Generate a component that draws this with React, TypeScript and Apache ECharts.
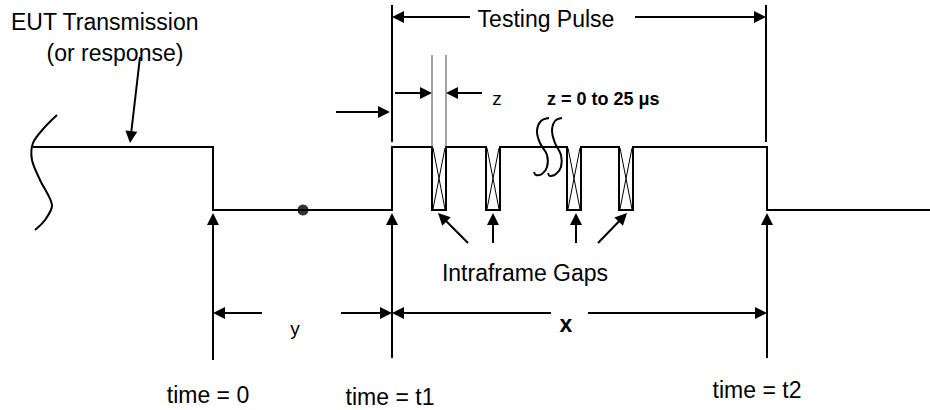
import React, { useEffect, useRef } from "react";
import * as echarts from "echarts";

// Signal levels (diagram units = pixels on a hidden 930 x 410 value grid)
const HIGH = 147;
const LOW = 210;
const waveStart = 33;
const waveEnd = 930;
// time = 0, time = t1, time = t2
const timeMarks = [213, 392, 767];
// Intraframe gaps (start positions) and their width
const gapStarts = [432, 486, 567, 619];
const gapWidth = 14;
// Marker dot on the low level
const dotPoints = [[303, 210]];

// Arrows: [fromX, fromY, tipX, tipY]
const arrowSegments = [
  [140, 57, 130, 143],
  [470, 17, 392, 17],
  [635, 17, 766, 17],
  [395, 93, 432, 93],
  [482, 93, 446, 93],
  [336, 112, 390, 112],
  [468, 243, 438, 213],
  [493, 243, 493, 213],
  [576, 243, 576, 213],
  [598, 243, 627, 213],
  [213, 360, 213, 213],
  [392, 358, 392, 213],
  [767, 358, 767, 213],
  [262, 313, 213, 313],
  [341, 313, 392, 313],
  [551, 313, 392, 313],
  [588, 313, 767, 313],
];
// Plain lines: [x1, y1, x2, y2]
const boldLines = [
  [392, 5, 392, 142],
  [766, 5, 766, 142],
];
const thinLines = [
  [432, 55, 432, 148],
  [446, 55, 446, 148],
];

// Text labels
const labelTexts = [
  "EUT Transmission",
  "(or response)",
  "Testing Pulse",
  "z",
  "z = 0 to 25 \u03bcs",
  "Intraframe Gaps",
  "y",
  "x",
  "time = 0",
  "time = t1",
  "time = t2",
];

const FONT = '"Liberation Sans", Arial, Helvetica, sans-serif';

function buildWave(): number[][] {
  const pts: number[][] = [];
  pts.push([waveStart, HIGH], [timeMarks[0], HIGH], [timeMarks[0], LOW]);
  pts.push([timeMarks[1], LOW], [timeMarks[1], HIGH]);
  gapStarts.forEach((g) => {
    pts.push([g, HIGH], [g, LOW], [g + gapWidth, LOW], [g + gapWidth, HIGH]);
  });
  pts.push([timeMarks[2], HIGH], [timeMarks[2], LOW], [waveEnd, LOW]);
  return pts;
}

function txt(
  text: string,
  x: number,
  y: number,
  size: number,
  align: string,
  weight: string = "normal"
) {
  return {
    type: "text",
    x,
    y,
    silent: true,
    style: {
      text,
      font: `${weight} ${size}px ${FONT}`,
      fill: "#000",
      align,
      verticalAlign: "middle",
      textAlign: align,
      textVerticalAlign: "middle",
    },
  };
}

export default function App() {
  const ref = useRef<HTMLDivElement>(null);
  useEffect(() => {
    if (!ref.current) return;
    const chart = echarts.init(ref.current, undefined, { renderer: "svg" });

    const lineRender = (width: number, color: string) => (params: any, api: any) => {
      const a = api.coord([api.value(0), api.value(1)]);
      const b = api.coord([api.value(2), api.value(3)]);
      return {
        type: "line",
        shape: { x1: a[0], y1: a[1], x2: b[0], y2: b[1] },
        style: { stroke: color, lineWidth: width },
      };
    };

    const option: any = {
      animation: false,
      backgroundColor: "#fff",
      grid: { left: 0, right: 0, top: 0, bottom: 0, containLabel: false },
      xAxis: { type: "value", min: 0, max: 930, show: false },
      yAxis: { type: "value", min: 0, max: 410, inverse: true, show: false },
      series: [
        {
          name: "EUT signal",
          type: "line",
          data: buildWave(),
          symbol: "none",
          lineStyle: { color: "#000", width: 2, join: "miter" },
          z: 3,
        },
        {
          name: "gap marks",
          type: "custom",
          data: gapStarts.map((g) => [g, HIGH]),
          renderItem: (params: any, api: any) => {
            const g = api.value(0);
            const tl = api.coord([g + 1, HIGH + 1]);
            const br = api.coord([g + gapWidth - 1, LOW - 1]);
            return {
              type: "group",
              children: [
                {
                  type: "line",
                  shape: { x1: tl[0], y1: tl[1], x2: br[0], y2: br[1] },
                  style: { stroke: "#000", lineWidth: 1 },
                },
                {
                  type: "line",
                  shape: { x1: br[0], y1: tl[1], x2: tl[0], y2: br[1] },
                  style: { stroke: "#000", lineWidth: 1 },
                },
              ],
            };
          },
          z: 2,
        },
        {
          name: "arrows",
          type: "custom",
          data: arrowSegments,
          encode: { x: [0, 2], y: [1, 3] },
          renderItem: (params: any, api: any) => {
            const a = api.coord([api.value(0), api.value(1)]);
            const b = api.coord([api.value(2), api.value(3)]);
            const dx = b[0] - a[0];
            const dy = b[1] - a[1];
            const len = Math.hypot(dx, dy) || 1;
            const ux = dx / len;
            const uy = dy / len;
            const hl = 12;
            const hw = 6;
            const base = [b[0] - ux * hl, b[1] - uy * hl];
            const left = [base[0] - uy * hw, base[1] + ux * hw];
            const right = [base[0] + uy * hw, base[1] - ux * hw];
            return {
              type: "group",
              children: [
                {
                  type: "line",
                  shape: { x1: a[0], y1: a[1], x2: base[0] + ux * 2, y2: base[1] + uy * 2 },
                  style: { stroke: "#000", lineWidth: 2 },
                },
                {
                  type: "polygon",
                  shape: { points: [b, left, right] },
                  style: { fill: "#000" },
                },
              ],
            };
          },
          z: 4,
        },
        {
          name: "markers",
          type: "custom",
          data: boldLines,
          encode: { x: [0, 2], y: [1, 3] },
          renderItem: lineRender(2, "#000"),
          z: 4,
        },
        {
          name: "z lines",
          type: "custom",
          data: thinLines,
          encode: { x: [0, 2], y: [1, 3] },
          renderItem: lineRender(1, "#444"),
          z: 4,
        },
        {
          name: "dot",
          type: "scatter",
          data: dotPoints,
          symbolSize: 11,
          itemStyle: { color: "#000" },
          z: 5,
        },
      ],
      graphic: [
        txt(labelTexts[0], 11, 22, 23, "left"),
        txt(labelTexts[1], 115, 53, 23, "center"),
        txt(labelTexts[2], 546, 19, 23, "center"),
        txt(labelTexts[3], 497, 98, 19, "center"),
        txt(labelTexts[4], 547, 99, 18, "left", "bold"),
        txt(labelTexts[5], 525, 273, 23, "center"),
        txt(labelTexts[6], 295, 328, 19, "center"),
        txt(labelTexts[7], 566, 324, 23, "center", "bold"),
        txt(labelTexts[8], 208, 395, 23, "center"),
        txt(labelTexts[9], 390, 397, 23, "center"),
        txt(labelTexts[10], 757, 390, 23, "center"),
        {
          type: "polyline",
          silent: true,
          shape: {
            points: [[57, 115], [44, 128], [33, 143], [32, 160], [40, 180], [52, 205], [45, 220], [35, 230]],
            smooth: 0.3,
          },
          style: { stroke: "#000", lineWidth: 2, fill: null },
        },
        {
          type: "polyline",
          silent: true,
          shape: {
            points: [[549, 118], [541, 121], [537, 131], [540, 143], [547, 155], [547, 167], [542, 174], [536, 175], [534, 172]],
            smooth: 0.4,
          },
          style: { stroke: "#000", lineWidth: 2, fill: null },
          z: 10,
        },
        {
          type: "polyline",
          silent: true,
          shape: {
            points: [[562, 118], [555, 121], [552, 131], [555, 143], [561, 155], [561, 167], [556, 174], [550, 176], [548, 173]],
            smooth: 0.4,
          },
          style: { stroke: "#000", lineWidth: 2, fill: null },
          z: 10,
        },
      ],
    };
    chart.setOption(option);
    return () => chart.dispose();
  }, []);

  return (
    <div
      ref={ref}
      style={{ position: "absolute", left: 0, top: 0, width: 930, height: 410, background: "#fff" }}
    />
  );
}
